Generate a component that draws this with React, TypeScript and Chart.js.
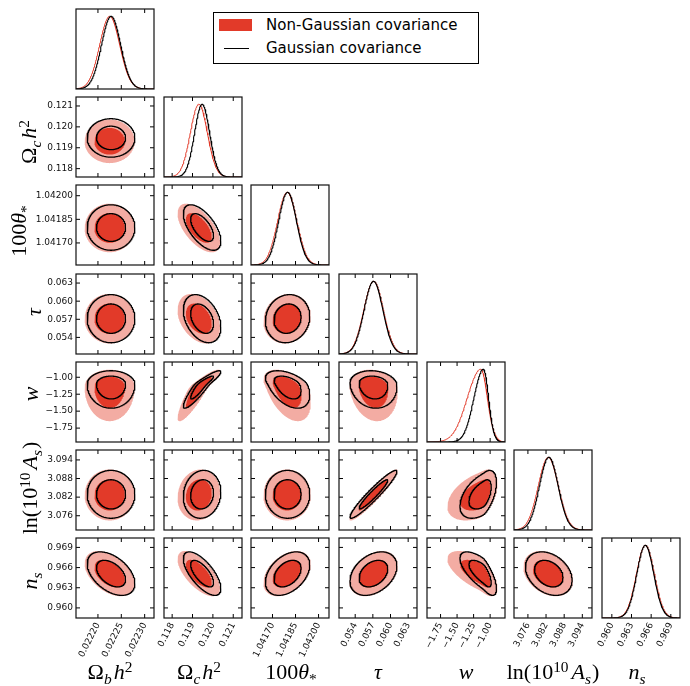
import React, { useEffect, useRef } from "react";
import { Chart, registerables } from "chart.js";

Chart.register(...registerables);

// ---------------------------------------------------------------------------
// Parameters: Omega_b h^2, Omega_c h^2, 100 theta_*, tau, w, ln(10^10 A_s), n_s
// ---------------------------------------------------------------------------
const N_PARAMS = 7;

const AXIS_MIN = [0.022153, 0.1176, 1.04156, 0.05125, -1.955, 3.0714, 0.9585];
const AXIS_MAX = [0.02232, 0.12143, 1.042068, 0.0645, -0.775, 3.0972, 0.9704];

const TICK_VALUES = [
  [0.0222, 0.02225, 0.0223],
  [0.118, 0.119, 0.12, 0.121],
  [1.0417, 1.04185, 1.042],
  [0.054, 0.057, 0.06, 0.063],
  [-1.75, -1.5, -1.25, -1.0],
  [3.076, 3.082, 3.088, 3.094],
  [0.96, 0.963, 0.966, 0.969],
];
const TICK_DECIMALS = [5, 3, 5, 3, 2, 3, 3];

// Gaussian covariance: peak position, lower / upper widths, correlations
const GAUSS_PEAK = [0.022228, 0.11947, 1.041798, 0.0571, -1.108, 3.0829, 0.9651];
const GAUSS_SIGMA_LO = [0.0000205, 0.00037, 0.000058, 0.0016, 0.14, 0.0031, 0.0013];
const GAUSS_SIGMA_HI = [0.0000205, 0.00037, 0.000058, 0.0016, 0.082, 0.0031, 0.0013];
const GAUSS_CORR = [
  [],
  [0.0],
  [0.0, -0.6],
  [0.0, -0.35, 0.1],
  [0.0, 0.92, -0.45, -0.1],
  [0.0, 0.1, 0.0, 0.95, 0.5],
  [-0.45, -0.68, 0.4, 0.35, -0.7, -0.3],
];

// Non-Gaussian covariance
const NONGAUSS_PEAK = [0.022225, 0.11931, 1.041795, 0.0571, -1.15, 3.0827, 0.9651];
const NONGAUSS_SIGMA_LO = [0.0000215, 0.00042, 0.000062, 0.00165, 0.2, 0.0033, 0.00135];
const NONGAUSS_SIGMA_HI = [0.0000215, 0.00042, 0.000062, 0.00165, 0.105, 0.0033, 0.00135];
const NONGAUSS_CORR = [
  [],
  [0.0],
  [0.0, -0.6],
  [0.0, -0.35, 0.1],
  [0.0, 0.9, -0.45, -0.15],
  [0.0, 0.1, 0.0, 0.94, 0.45],
  [-0.45, -0.65, 0.4, 0.35, -0.65, -0.3],
];

// 68% and 95% two-dimensional levels, in units of standard deviation
const CONTOUR_RADII = [1.52, 2.49];

const LEGEND_LABELS = ["Non-Gaussian covariance", "Gaussian covariance"];

// ---------------------------------------------------------------------------
// Styling and grid layout
// ---------------------------------------------------------------------------
const RED_DARK = "#e23a29";
const RED_LIGHT = "#f3aca3";
const LINE_BLACK = "#000000";
const TICK_FONT = { family: "'DejaVu Sans', sans-serif", size: 9 };
const MATH_FONT = "'Liberation Serif', 'DejaVu Serif', serif";

const COL_LEFT = [76, 164, 251, 339, 427, 514, 602];
const ROW_TOP = [9, 97, 185, 274, 362, 450, 538];
const PANEL_W = 78;
const PANEL_H = 80;
const PAD = 12;
const LABEL_PAD_LEFT = 70;
const LABEL_PAD_BOTTOM = 60;

type Source = {
  peak: number[];
  lo: number[];
  hi: number[];
  corr: number[][];
};
const GAUSS: Source = { peak: GAUSS_PEAK, lo: GAUSS_SIGMA_LO, hi: GAUSS_SIGMA_HI, corr: GAUSS_CORR };
const NONGAUSS: Source = {
  peak: NONGAUSS_PEAK,
  lo: NONGAUSS_SIGMA_LO,
  hi: NONGAUSS_SIGMA_HI,
  corr: NONGAUSS_CORR,
};

// standard-unit offset -> parameter offset, with different widths on each side
function stretch(u: number, lo: number, hi: number) {
  const t = 0.5 * (1 + Math.tanh(u / 0.6));
  return u * (lo + (hi - lo) * t);
}

function correlation(src: Source, a: number, b: number) {
  return a > b ? src.corr[a][b] : src.corr[b][a];
}

function contourPoints(src: Source, ix: number, iy: number, r: number) {
  const rho = correlation(src, ix, iy);
  const s = Math.sqrt(1 - rho * rho);
  const pts: { x: number; y: number }[] = [];
  const n = 200;
  for (let k = 0; k <= n; k++) {
    const t = (2 * Math.PI * k) / n;
    const a = r * Math.cos(t);
    const b = r * (rho * Math.cos(t) + s * Math.sin(t));
    pts.push({
      x: src.peak[ix] + stretch(a, src.lo[ix], src.hi[ix]),
      y: src.peak[iy] + stretch(b, src.lo[iy], src.hi[iy]),
    });
  }
  return pts;
}

function marginalPoints(src: Source, i: number) {
  const pts: { x: number; y: number }[] = [];
  for (let k = -120; k <= 120; k++) {
    const u = k / 20;
    pts.push({ x: src.peak[i] + stretch(u, src.lo[i], src.hi[i]), y: Math.exp(-0.5 * u * u) });
  }
  return pts;
}

function tickLabel(col: number) {
  return (v: number | string) => Number(v).toFixed(TICK_DECIMALS[col]).replace("-", "\u2212");
}

// Frame and inward tick marks on every panel
const panelFrame = {
  id: "panelFrame",
  afterDatasetsDraw(chart: any, _args: any, opts: any) {
    const { ctx, chartArea: a, scales } = chart;
    const len = 4;
    ctx.save();
    ctx.strokeStyle = "#000";
    ctx.lineWidth = 1;
    ctx.beginPath();
    for (const t of scales.x.ticks) {
      const px = scales.x.getPixelForValue(t.value);
      ctx.moveTo(px, a.bottom);
      ctx.lineTo(px, a.bottom - len);
      ctx.moveTo(px, a.top);
      ctx.lineTo(px, a.top + len);
    }
    if (opts.yTicks) {
      for (const t of scales.y.ticks) {
        const py = scales.y.getPixelForValue(t.value);
        ctx.moveTo(a.left, py);
        ctx.lineTo(a.left + len, py);
        ctx.moveTo(a.right, py);
        ctx.lineTo(a.right - len, py);
      }
    }
    ctx.stroke();
    ctx.lineWidth = 1.2;
    ctx.strokeStyle = "#111";
    ctx.strokeRect(a.left, a.top, a.right - a.left, a.bottom - a.top);
    ctx.restore();
  },
};

type PanelSpec = {
  row: number;
  col: number;
  padL: number;
  padB: number;
  left: number;
  top: number;
  width: number;
  height: number;
};

const PANELS: PanelSpec[] = [];
for (let r = 0; r < N_PARAMS; r++) {
  for (let c = 0; c <= r; c++) {
    const padL = c === 0 && r > 0 ? LABEL_PAD_LEFT : PAD;
    const padB = r === N_PARAMS - 1 ? LABEL_PAD_BOTTOM : PAD;
    PANELS.push({
      row: r,
      col: c,
      padL,
      padB,
      left: COL_LEFT[c] - padL,
      top: ROW_TOP[r] - PAD,
      width: PANEL_W + padL + PAD,
      height: PANEL_H + PAD + padB,
    });
  }
}

function buildConfig(p: PanelSpec): any {
  const diag = p.row === p.col;
  const showX = p.row === N_PARAMS - 1;
  const showY = p.col === 0 && !diag;

  const datasets: any[] = [];
  if (diag) {
    datasets.push({
      data: marginalPoints(NONGAUSS, p.col),
      borderColor: RED_DARK,
      borderWidth: 1,
      fill: false,
      order: 2,
    });
    datasets.push({
      data: marginalPoints(GAUSS, p.col),
      borderColor: LINE_BLACK,
      borderWidth: 1.1,
      fill: false,
      order: 1,
    });
  } else {
    datasets.push({
      data: contourPoints(NONGAUSS, p.col, p.row, CONTOUR_RADII[1]),
      borderColor: "rgba(0,0,0,0)",
      borderWidth: 0,
      backgroundColor: RED_LIGHT,
      fill: "shape",
      order: 4,
    });
    datasets.push({
      data: contourPoints(NONGAUSS, p.col, p.row, CONTOUR_RADII[0]),
      borderColor: "rgba(0,0,0,0)",
      borderWidth: 0,
      backgroundColor: RED_DARK,
      fill: "shape",
      order: 3,
    });
    datasets.push({
      data: contourPoints(GAUSS, p.col, p.row, CONTOUR_RADII[1]),
      borderColor: LINE_BLACK,
      borderWidth: 1.3,
      fill: false,
      order: 2,
    });
    datasets.push({
      data: contourPoints(GAUSS, p.col, p.row, CONTOUR_RADII[0]),
      borderColor: LINE_BLACK,
      borderWidth: 1.3,
      fill: false,
      order: 1,
    });
  }
  for (const d of datasets) {
    d.pointRadius = 0;
    d.tension = 0;
    d.clip = 0;
    d.borderJoinStyle = "round";
  }

  const xScale = {
    type: "linear",
    position: "bottom",
    min: AXIS_MIN[p.col],
    max: AXIS_MAX[p.col],
    grid: { display: false, drawTicks: false },
    border: { display: false },
    ticks: {
      display: showX,
      autoSkip: false,
      minRotation: 63,
      maxRotation: 63,
      padding: 3,
      font: TICK_FONT,
      color: "#111",
      callback: tickLabel(p.col),
    },
    afterBuildTicks: (s: any) => {
      s.ticks = TICK_VALUES[p.col].map((value) => ({ value }));
    },
    afterFit: (s: any) => {
      s.height = p.padB;
    },
  };

  const yScale = diag
    ? {
        type: "linear",
        position: "left",
        min: 0,
        max: 1.1,
        grid: { display: false, drawTicks: false },
        border: { display: false },
        ticks: { display: false },
        afterFit: (s: any) => {
          s.width = p.padL;
        },
      }
    : {
        type: "linear",
        position: "left",
        min: AXIS_MIN[p.row],
        max: AXIS_MAX[p.row],
        grid: { display: false, drawTicks: false },
        border: { display: false },
        ticks: {
          display: showY,
          autoSkip: false,
          padding: 3,
          font: TICK_FONT,
          color: "#111",
          callback: tickLabel(p.row),
        },
        afterBuildTicks: (s: any) => {
          s.ticks = TICK_VALUES[p.row].map((value) => ({ value }));
        },
        afterFit: (s: any) => {
          s.width = p.padL;
        },
      };

  return {
    type: "line",
    data: { datasets },
    options: {
      animation: false,
      responsive: false,
      maintainAspectRatio: false,
      events: [],
      layout: { padding: { left: 0, top: PAD, right: PAD, bottom: 0 } },
      plugins: {
        legend: { display: false },
        tooltip: { enabled: false },
        panelFrame: { yTicks: !diag },
      },
      scales: { x: xScale, y: yScale },
    },
    plugins: [panelFrame],
  };
}

// ---------------------------------------------------------------------------
// Axis titles (math text)
// ---------------------------------------------------------------------------
const Sub = ({ children }: { children: React.ReactNode }) => (
  <span style={{ fontSize: "0.7em", position: "relative", top: "0.32em" }}>{children}</span>
);
const Sup = ({ children }: { children: React.ReactNode }) => (
  <span style={{ fontSize: "0.7em", position: "relative", top: "-0.45em" }}>{children}</span>
);

const AXIS_TITLES: React.ReactNode[] = [
  <>
    Ω<Sub><i>b</i></Sub>
    <i style={{ marginLeft: 2 }}>h</i>
    <Sup>2</Sup>
  </>,
  <>
    Ω<Sub><i>c</i></Sub>
    <i style={{ marginLeft: 2 }}>h</i>
    <Sup>2</Sup>
  </>,
  <>
    100<i>θ</i>
    <Sub>*</Sub>
  </>,
  <i>τ</i>,
  <i>w</i>,
  <>
    ln(10<Sup>10</Sup>
    <i style={{ marginLeft: 3 }}>A</i>
    <Sub><i>s</i></Sub>
    <span style={{ marginLeft: 1 }}>)</span>
  </>,
  <>
    <i>n</i>
    <Sub><i>s</i></Sub>
  </>,
];

// title placement: bottom titles by centre x, left titles by baseline x and centre y
const X_TITLE_CENTER = [110, 199, 291, 378, 466, 553, 637];
const X_TITLE_BASELINE = 679;
const Y_TITLE_BASELINE = [0, 36, 26, 41, 38, 37, 37];
const Y_TITLE_CENTER = [0, 142, 231, 312, 394, 488, 581];

const titleStyle: React.CSSProperties = {
  position: "absolute",
  fontFamily: MATH_FONT,
  fontSize: 22,
  lineHeight: 1,
  whiteSpace: "nowrap",
  color: "#000",
};

export default function App() {
  const refs = useRef<(HTMLCanvasElement | null)[]>([]);

  useEffect(() => {
    const charts = PANELS.map((p, k) => new Chart(refs.current[k] as HTMLCanvasElement, buildConfig(p)));
    return () => charts.forEach((c) => c.destroy());
  }, []);

  return (
    <div
      style={{
        position: "absolute",
        left: 0,
        top: 0,
        width: 690,
        height: 686,
        background: "#fff",
        overflow: "hidden",
      }}
    >
      {PANELS.map((p, k) => (
        <canvas
          key={k}
          ref={(el) => {
            refs.current[k] = el;
          }}
          width={p.width}
          height={p.height}
          style={{ position: "absolute", left: p.left, top: p.top, width: p.width, height: p.height }}
        />
      ))}

      {AXIS_TITLES.map((t, i) => (
        <div
          key={"x" + i}
          style={{
            ...titleStyle,
            left: X_TITLE_CENTER[i],
            top: X_TITLE_BASELINE,
            transform: "translate(-50%, -0.837em)",
          }}
        >
          {t}
        </div>
      ))}

      {AXIS_TITLES.map((t, i) =>
        i === 0 ? null : (
          <div
            key={"y" + i}
            style={{ position: "absolute", left: Y_TITLE_BASELINE[i], top: Y_TITLE_CENTER[i], width: 0, height: 0 }}
          >
            <div
              style={{
                ...titleStyle,
                left: 0,
                top: 0,
                transformOrigin: "0 0",
                transform: "rotate(-90deg) translate(-50%, -0.837em)",
              }}
            >
              {t}
            </div>
          </div>
        )
      )}

      <div
        style={{
          position: "absolute",
          left: 213,
          top: 12,
          width: 264,
          height: 50,
          border: "1px solid #000",
          background: "#fff",
          fontFamily: "'DejaVu Sans', sans-serif",
          fontSize: 15,
          color: "#000",
        }}
      >
        <div style={{ position: "absolute", left: 5, top: 6, width: 33, height: 12, background: RED_DARK }} />
        <div style={{ position: "absolute", left: 10, top: 35, width: 25, height: 1, background: "#000" }} />
        <div style={{ position: "absolute", left: 52, top: 5, lineHeight: "15px", whiteSpace: "nowrap" }}>
          {LEGEND_LABELS[0]}
        </div>
        <div style={{ position: "absolute", left: 52, top: 28, lineHeight: "15px", whiteSpace: "nowrap" }}>
          {LEGEND_LABELS[1]}
        </div>
      </div>
    </div>
  );
}
